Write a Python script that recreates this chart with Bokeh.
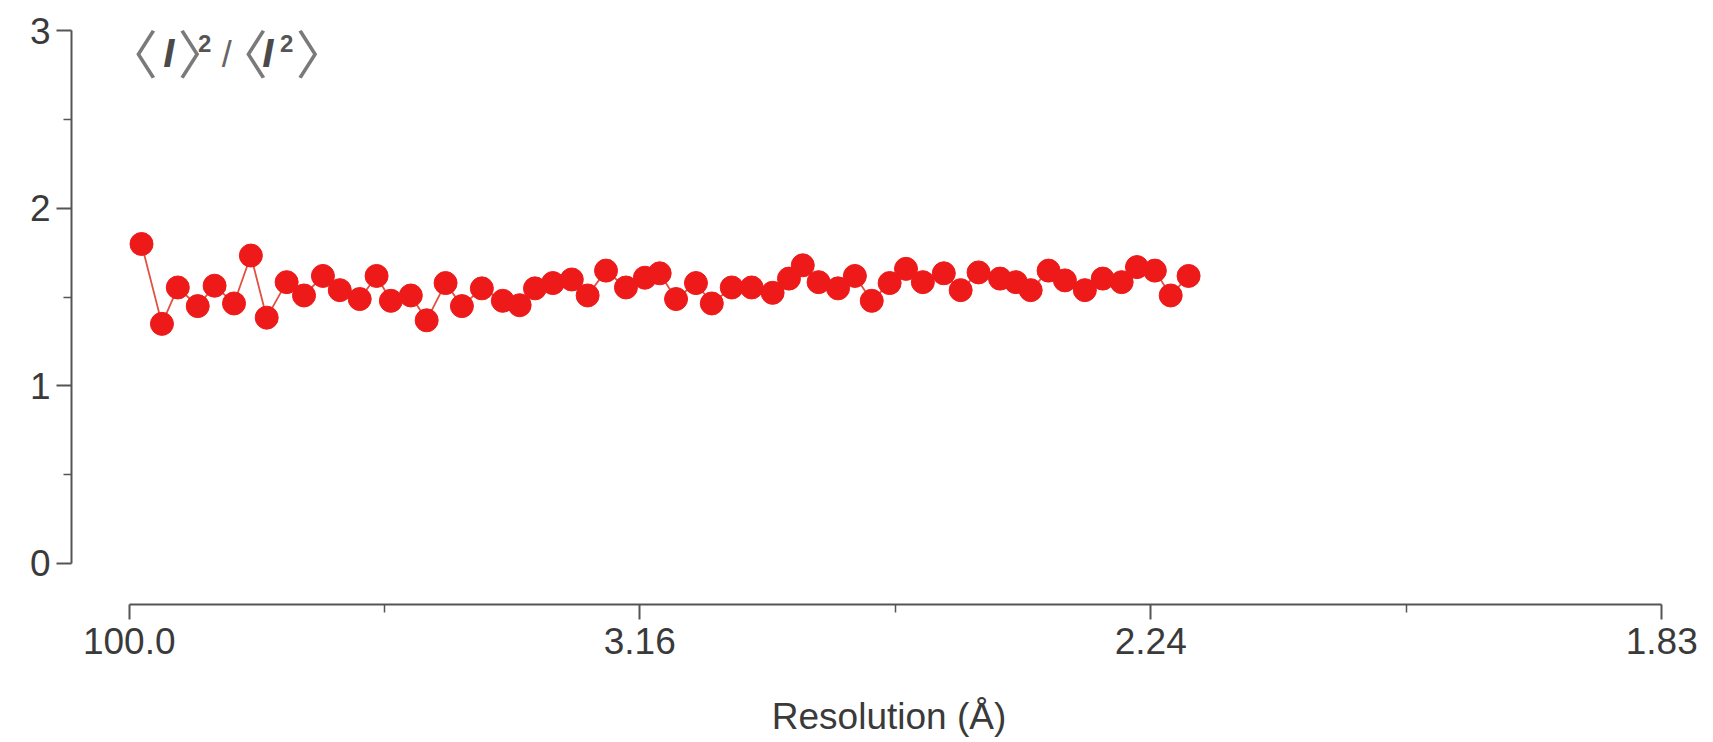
from bokeh.plotting import figure
from bokeh.models import FixedTicker, Label, Range1d
from bokeh.embed import file_html
from bokeh.resources import INLINE

# x: 1/d^2 (Å^-2) of each resolution bin, y: <I>^2/<I^2>
s_vals = [0.0025, 0.0065, 0.0096, 0.0135, 0.0168, 0.0206, 0.0239, 0.0270, 0.0309, 0.0343,
          0.0380, 0.0413, 0.0452, 0.0485, 0.0513, 0.0552, 0.0583, 0.0620, 0.0652, 0.0691,
          0.0732, 0.0765, 0.0795, 0.0830, 0.0867, 0.0898, 0.0934, 0.0973, 0.1010, 0.1039,
          0.1071, 0.1110, 0.1141, 0.1180, 0.1219, 0.1260, 0.1292, 0.1319, 0.1350, 0.1388,
          0.1421, 0.1454, 0.1489, 0.1521, 0.1554, 0.1595, 0.1628, 0.1663, 0.1705, 0.1736,
          0.1765, 0.1800, 0.1832, 0.1871, 0.1906, 0.1943, 0.1973, 0.2008, 0.2039, 0.2074]
ratio = [1.80, 1.35, 1.555, 1.45, 1.565, 1.465, 1.735, 1.385, 1.585, 1.51,
         1.62, 1.54, 1.49, 1.62, 1.48, 1.51, 1.37, 1.58, 1.45, 1.55,
         1.48, 1.455, 1.55, 1.58, 1.60, 1.51, 1.65, 1.555, 1.61, 1.635,
         1.49, 1.58, 1.465, 1.555, 1.555, 1.525, 1.605, 1.68, 1.585, 1.55,
         1.62, 1.48, 1.58, 1.66, 1.585, 1.635, 1.54, 1.64, 1.605, 1.585,
         1.54, 1.65, 1.595, 1.54, 1.605, 1.585, 1.67, 1.65, 1.51, 1.62]

# ticks evenly spaced in 1/d^2, labelled with the resolution d
x_ticks = [0.0001, 0.1, 0.2, 0.3]
x_tick_labels = ["100.0", "3.16", "2.24", "1.83"]
x_minor = [0.05, 0.15, 0.25]
y_ticks = [0, 1, 2, 3]
y_minor = [0.5, 1.5, 2.5]

p = figure(frame_width=1635, frame_height=586, output_backend="svg", toolbar_location=None,
           x_range=Range1d(-0.0112, 0.30875), y_range=Range1d(-0.231, 3.0704),
           min_border_left=71, min_border_right=7, min_border_top=18, min_border_bottom=100)
p.outline_line_color = None
p.xgrid.visible = False
p.ygrid.visible = False
p.background_fill_color = "white"
p.border_fill_color = "white"

axis_col = "#555555"
text_col = "#3a3a3a"

xa = p.xaxis[0]
xa.ticker = FixedTicker(ticks=x_ticks, minor_ticks=x_minor)
xa.major_label_overrides = {t: l for t, l in zip(x_ticks, x_tick_labels)}
xa.bounds = (x_ticks[0], x_ticks[-1])
xa.axis_label = "Resolution (Å)"

ya = p.yaxis[0]
ya.ticker = FixedTicker(ticks=y_ticks, minor_ticks=y_minor)
ya.bounds = (0, 3)

for ax in (xa, ya):
    ax.axis_line_color = axis_col
    ax.axis_line_width = 2
    ax.major_tick_line_color = axis_col
    ax.major_tick_line_width = 2
    ax.minor_tick_line_color = axis_col
    ax.minor_tick_line_width = 1.5
    ax.major_tick_out = 15
    ax.major_tick_in = 0
    ax.minor_tick_out = 8
    ax.minor_tick_in = 0
    ax.major_label_text_font = "Liberation Sans"
    ax.major_label_text_font_size = "37px"
    ax.major_label_text_color = text_col
    ax.axis_label_text_font = "Liberation Sans"
    ax.axis_label_text_font_size = "37px"
    ax.axis_label_text_font_style = "normal"
    ax.axis_label_text_color = text_col

xa.major_label_standoff = 8
xa.axis_label_standoff = 39
ya.major_label_standoff = 6

p.line(s_vals, ratio, line_color="#E2503E", line_width=1.8)
p.scatter(s_vals, ratio, size=23, fill_color="#EE1A1A", line_color="#EE1A1A")

# title pieces: <I>^2/<I^2>, positioned in page pixels -> data coords
def px2x(px):
    return (px - 128) / 5110.0

def py2y(py):
    return (563 - py) / 177.5

br_col = "#7a7a7a"
cjk = "Noto Sans CJK SC"
pieces = [
    ("〈", 131, 51, "52px", "normal", cjk, br_col),
    ("I", 168, 53, "40px", "bold italic", "Liberation Sans", "#4a4a4a"),
    ("〉", 203, 51, "52px", "normal", cjk, br_col),
    ("2", 204, 43, "24px", "bold", "Liberation Sans", "#555555"),
    ("/", 226, 54, "36px", "normal", "Liberation Sans", "#666666"),
    ("〈", 241, 51, "52px", "normal", cjk, br_col),
    ("I", 267, 53, "40px", "bold italic", "Liberation Sans", "#4a4a4a"),
    ("2", 286, 43, "24px", "bold", "Liberation Sans", "#555555"),
    ("〉", 321, 51, "52px", "normal", cjk, br_col),
]
for txt, px, py, fs, st, fnt, col in pieces:
    p.add_layout(Label(x=px2x(px), y=py2y(py), text=txt, text_font=fnt,
                       text_font_size=fs, text_font_style=st, text_color=col,
                       text_align="center", text_baseline="middle"))

open("out.html", "w").write(file_html(p, INLINE))
